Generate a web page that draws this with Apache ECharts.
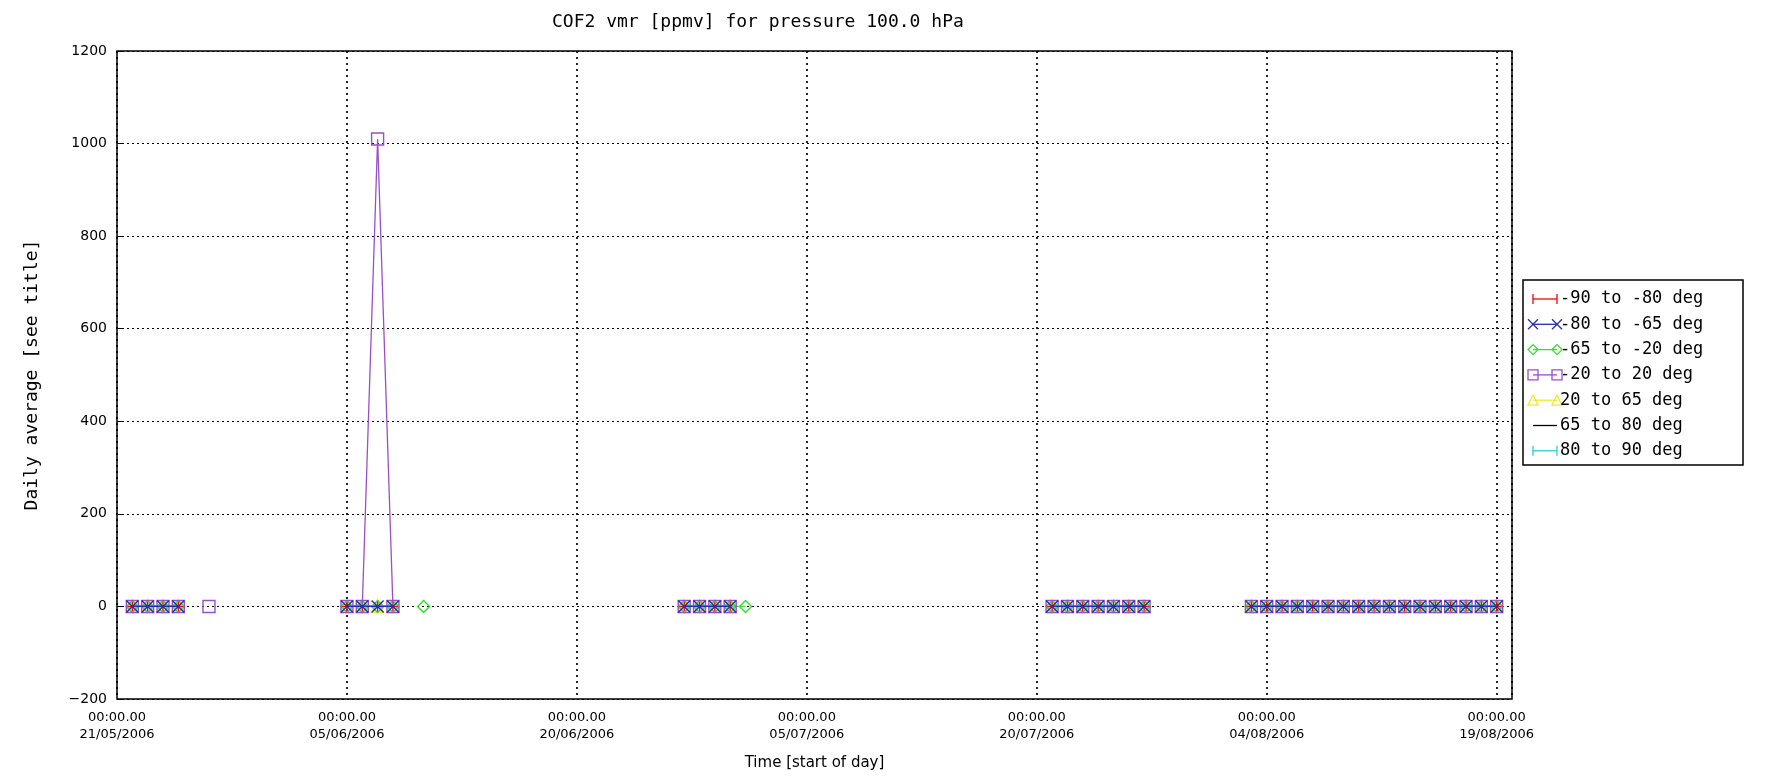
<!DOCTYPE html>
<html>
<head>
<meta charset="utf-8">
<title>COF2 vmr</title>
<script src="https://cdn.jsdelivr.net/npm/echarts@6/dist/echarts.min.js"></script>
<style>
  html, body { margin: 0; padding: 0; background: #fff; }
  #chart { width: 1769px; height: 782px; }
</style>
</head>
<body>
<div id="chart"></div>
<script>
// days with daily averages (null rows break the line between clusters)
var days = [
  '2006-05-22', '2006-05-23', '2006-05-24', '2006-05-25', '2006-05-26', '2006-05-27', '2006-05-28',
  '2006-06-05', '2006-06-06', '2006-06-07', '2006-06-08', '2006-06-09', '2006-06-10', '2006-06-11',
  '2006-06-27', '2006-06-28', '2006-06-29', '2006-06-30', '2006-07-01', '2006-07-02',
  '2006-07-21', '2006-07-22', '2006-07-23', '2006-07-24', '2006-07-25', '2006-07-26', '2006-07-27', '2006-07-28',
  '2006-08-03', '2006-08-04', '2006-08-05', '2006-08-06', '2006-08-07', '2006-08-08', '2006-08-09', '2006-08-10',
  '2006-08-11', '2006-08-12', '2006-08-13', '2006-08-14', '2006-08-15', '2006-08-16', '2006-08-17', '2006-08-18', '2006-08-19'
];

var s90to80 = [
  0, 0, 0, 0, null, null, null,
  0, 0, 0, 0, null, null, null,
  0, 0, 0, 0, null, null,
  0, 0, 0, 0, 0, 0, 0, null,
  0, 0, 0, 0, 0, 0, 0, 0, 0, 0, 0, 0, 0, 0, 0, 0, 0
];
var s80to65 = [
  0, 0, 0, 0, null, null, null,
  0, 0, 0, 0, null, null, null,
  0, 0, 0, 0, null, null,
  0, 0, 0, 0, 0, 0, 0, null,
  0, 0, 0, 0, 0, 0, 0, 0, 0, 0, 0, 0, 0, 0, 0, 0, 0
];
var s65to20 = [
  0, 0, 0, 0, null, null, null,
  0, 0, 0, 0, null, 0, null,
  0, 0, 0, 0, 0, null,
  0, 0, 0, 0, 0, 0, 0, null,
  0, 0, 0, 0, 0, 0, 0, 0, 0, 0, 0, 0, 0, 0, 0, 0, 0
];
var s20to20 = [
  0, 0, 0, 0, null, 0, null,
  0, 0, 1010, 0, null, null, null,
  0, 0, 0, 0, null, null,
  0, 0, 0, 0, 0, 0, 0, null,
  0, 0, 0, 0, 0, 0, 0, 0, 0, 0, 0, 0, 0, 0, 0, 0, 0
];
var s20to65 = [
  0, 0, 0, 0, null, null, null,
  0, 0, 0, 0, null, null, null,
  0, 0, 0, 0, null, null,
  0, 0, 0, 0, 0, 0, 0, null,
  0, 0, 0, 0, 0, 0, 0, 0, 0, 0, 0, 0, 0, 0, 0, 0, 0
];
var s65to80 = [
  0, 0, 0, 0, null, null, null,
  0, 0, 0, 0, null, null, null,
  0, 0, 0, 0, null, null,
  0, 0, 0, 0, 0, 0, 0, null,
  0, 0, 0, 0, 0, 0, 0, 0, 0, 0, 0, 0, 0, 0, 0, 0, 0
];
var s80to90 = [
  0, 0, 0, 0, null, null, null,
  0, 0, 0, 0, null, null, null,
  0, 0, 0, 0, null, null,
  0, 0, 0, 0, 0, 0, 0, null,
  0, 0, 0, 0, 0, 0, 0, 0, 0, 0, 0, 0, 0, 0, 0, 0, 0
];

var seriesNames = ['-90 to -80 deg', '-80 to -65 deg', '-65 to -20 deg', '-20 to 20 deg', '20 to 65 deg', '65 to 80 deg', '80 to 90 deg'];
var seriesValues = [s90to80, s80to65, s65to20, s20to20, s20to65, s65to80, s80to90];
var seriesColors = ['#ff0000', '#2a2ab0', '#33dd33', '#9a4fc4', '#eaea30', '#000000', '#22d0d8'];
var seriesMarks = ['plus', 'cross', 'diamond', 'square', 'triangle', 'none', 'bar'];
// stacking order of the overlapping marks (purple squares and blue crosses end up on top)
var seriesZ = [3, 8, 5, 7, 2, 4, 6];

var markPaths = {
  plus: 'path://M5,0L5,10M0,5L10,5',
  cross: 'path://M0,0L10,10M10,0L0,10',
  diamond: 'path://M5,0L10,5L5,10L0,5Z',
  square: 'path://M0,0L10,0L10,10L0,10Z',
  triangle: 'path://M5,0L10,10L0,10Z',
  bar: 'path://M0,0L0,10'
};

var startDay = new Date('2006-05-21T00:00:00Z').getTime();
var DAY = 86400000;
function pad(n) { return (n < 10 ? '0' : '') + n; }
function dayLabel(v) {
  var d = new Date(startDay + v * DAY);
  return '00:00.00\n' + pad(d.getUTCDate()) + '/' + pad(d.getUTCMonth() + 1) + '/' + d.getUTCFullYear();
}

var series = seriesNames.map(function (name, i) {
  var c = seriesColors[i];
  var m = seriesMarks[i];
  return {
    name: name,
    type: 'line',
    data: days.map(function (d, k) {
      var off = (new Date(d + 'T00:00:00Z').getTime() - startDay) / DAY;
      return [off, seriesValues[i][k]];
    }),
    connectNulls: false,
    symbol: m === 'none' ? 'none' : markPaths[m],
    symbolSize: m === 'bar' ? [2, 12] : 12,
    showSymbol: m !== 'none',
    lineStyle: { color: c, width: 1.3 },
    itemStyle: { color: 'rgba(0,0,0,0)', borderColor: c, borderWidth: 1.4 },
    emphasis: { disabled: true },
    animation: false,
    z: seriesZ[i]
  };
});

// legend box drawn by hand: IDL style, marker at both ends of the sample line
var legendX = 1523, legendY = 280, legendW = 220, legendH = 185, rowH = 25.3;
function legendMark(m, cx, cy, c) {
  var r = 5;
  var st = { stroke: c, lineWidth: 1.3, fill: null };
  if (m === 'cross') return { type: 'group', children: [
    { type: 'line', shape: { x1: cx - r, y1: cy - r, x2: cx + r, y2: cy + r }, style: st },
    { type: 'line', shape: { x1: cx + r, y1: cy - r, x2: cx - r, y2: cy + r }, style: st }] };
  if (m === 'diamond') return { type: 'polygon', shape: { points: [[cx, cy - r], [cx + r, cy], [cx, cy + r], [cx - r, cy]] }, style: st };
  if (m === 'square') return { type: 'rect', shape: { x: cx - r, y: cy - r, width: 2 * r, height: 2 * r }, style: st };
  if (m === 'triangle') return { type: 'polygon', shape: { points: [[cx, cy - r], [cx + r, cy + r], [cx - r, cy + r]] }, style: st };
  // plus and bar: the sample line gives the horizontal stroke
  return { type: 'line', shape: { x1: cx, y1: cy - r, x2: cx, y2: cy + r }, style: st };
}
var legendEls = [{
  type: 'rect',
  shape: { x: legendX, y: legendY, width: legendW, height: legendH },
  style: { fill: '#fff', stroke: '#000', lineWidth: 1.5 }
}];
seriesNames.forEach(function (name, i) {
  var cy = legendY + 19 + i * rowH;
  var c = seriesColors[i];
  var m = seriesMarks[i];
  var x1 = legendX + 10, x2 = legendX + 34;
  legendEls.push({ type: 'line', shape: { x1: x1, y1: cy, x2: x2, y2: cy }, style: { stroke: c, lineWidth: 1.3 } });
  if (m !== 'none') {
    legendEls.push(legendMark(m, x1, cy, c));
    legendEls.push(legendMark(m, x2, cy, c));
  }
  legendEls.push({
    type: 'text',
    style: {
      text: name, x: legendX + 37, y: cy, verticalAlign: 'middle',
      font: '17px "DejaVu Sans Mono"', fill: '#000'
    }
  });
});

var chart = echarts.init(document.getElementById('chart'), null, { renderer: 'canvas' });
chart.setOption({
  backgroundColor: '#ffffff',
  title: {
    text: 'COF2 vmr [ppmv] for pressure 100.0 hPa',
    left: 547,
    top: 8,
    textStyle: { fontFamily: 'DejaVu Sans Mono', fontSize: 18, fontWeight: 'normal', color: '#000' }
  },
  grid: {
    left: 117, right: 257, top: 51, bottom: 83,
    show: true, borderColor: '#000', borderWidth: 1.5, backgroundColor: 'transparent'
  },
  graphic: legendEls,
  xAxis: {
    type: 'value',
    min: 0, max: 91, interval: 15,
    name: 'Time [start of day]',
    nameLocation: 'middle',
    nameGap: 57,
    nameTextStyle: { fontFamily: 'DejaVu Sans', fontSize: 15, color: '#000' },
    axisLine: { show: false },
    axisTick: { show: false },
    axisLabel: {
      showMaxLabel: false,
      margin: 10,
      lineHeight: 17,
      fontFamily: 'DejaVu Sans', fontSize: 13, color: '#000',
      formatter: dayLabel
    },
    splitLine: { show: true, lineStyle: { color: '#000', type: [2, 4], width: 1.7 } }
  },
  yAxis: {
    type: 'value',
    min: -200, max: 1200, interval: 200,
    name: 'Daily average [see title]',
    nameLocation: 'middle',
    nameGap: 76,
    nameRotate: 90,
    nameTextStyle: { fontFamily: 'DejaVu Sans Mono', fontSize: 18, color: '#000' },
    axisLine: { show: false },
    axisTick: { show: true, inside: true, length: 6, lineStyle: { color: '#000' } },
    axisLabel: {
      margin: 10, fontFamily: 'DejaVu Sans', fontSize: 14, color: '#000',
      formatter: function (v) { return v < 0 ? '\u2212' + (-v) : String(v); }
    },
    splitLine: { show: true, lineStyle: { color: '#000', type: [2, 3], width: 1.2 } }
  },
  series: series
});
</script>
</body>
</html>
